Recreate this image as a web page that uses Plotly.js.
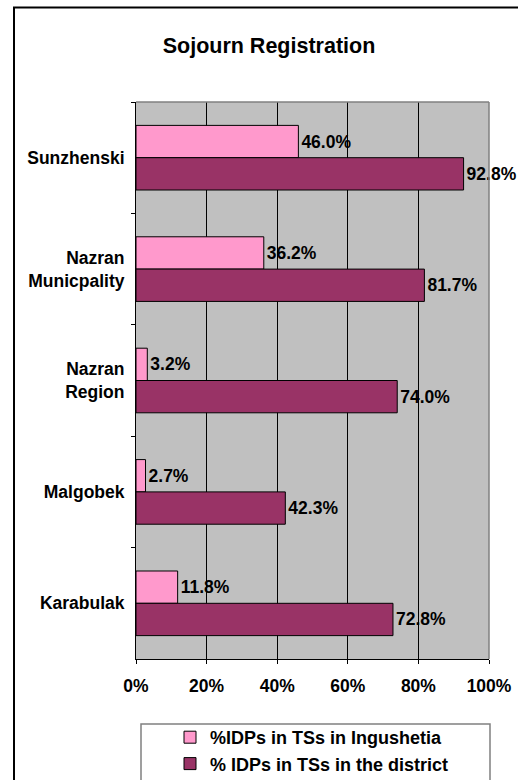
<!DOCTYPE html>
<html>
<head>
<meta charset="utf-8">
<script src="https://cdn.plot.ly/plotly-3.0.1.min.js"></script>
<style>
html,body{margin:0;padding:0;background:#fff;}
#chart{width:518px;height:780px;}
</style>
</head>
<body>
<div id="chart"></div>
<script>
const categories = ['Sunzhenski', 'Nazran<br>Municpality', 'Nazran<br>Region', 'Malgobek', 'Karabulak'];
const ingushetia = [46.0, 36.2, 3.2, 2.7, 11.8];
const district = [92.8, 81.7, 74.0, 42.3, 72.8];
const seriesNames = ['%IDPs in TSs in Ingushetia', '% IDPs in TSs in the district'];
const xTickVals = [0, 20, 40, 60, 80, 100];

const FONT = 'Liberation Sans, Arial, sans-serif';
const labelFont = {family: FONT, size: 17.5, color: '#000', weight: 'bold'};

const traces = [
  {
    type: 'bar', orientation: 'h', name: seriesNames[0],
    y: categories, x: ingushetia,
    marker: {color: '#FF99CC', line: {color: '#000', width: 1}},
    text: ingushetia.map(v => v.toFixed(1) + '%'),
    textposition: 'outside', textfont: labelFont,
    cliponaxis: false, constraintext: 'none', hoverinfo: 'skip'
  },
  {
    type: 'bar', orientation: 'h', name: seriesNames[1],
    y: categories, x: district,
    marker: {color: '#993366', line: {color: '#000', width: 1}},
    text: district.map(v => v.toFixed(1) + '%'),
    textposition: 'outside', textfont: labelFont,
    cliponaxis: false, constraintext: 'none', hoverinfo: 'skip'
  }
];

const layout = {
  width: 518, height: 780,
  margin: {l: 136, r: 29, t: 102, b: 121, autoexpand: false},
  paper_bgcolor: '#fff',
  plot_bgcolor: '#C0C0C0',
  barmode: 'group', bargap: 0.42, bargroupgap: 0,
  showlegend: true,
  title: {
    text: 'Sojourn Registration',
    font: {family: FONT, size: 21.5, color: '#000', weight: 'bold'},
    xref: 'container', x: 269/518, xanchor: 'center',
    yref: 'container', y: 1 - 45/780, yanchor: 'middle'
  },
  xaxis: {
    range: [0, 100], tickvals: xTickVals, ticktext: xTickVals.map(v => v + '%'),
    showgrid: true, gridcolor: '#000', gridwidth: 1,
    zeroline: false, showline: true, linecolor: '#000', linewidth: 1,
    ticks: 'outside', ticklen: 4, tickcolor: '#000',
    ticklabelstandoff: 7,
    tickfont: labelFont, fixedrange: true
  },
  yaxis: {
    type: 'category', autorange: 'reversed',
    showgrid: false, zeroline: false,
    showline: true, linecolor: '#000', linewidth: 1,
    ticks: 'outside', tickson: 'boundaries', ticklen: 4, tickcolor: '#000',
    ticklabelstandoff: 7,
    tickfont: labelFont, fixedrange: true
  },
  legend: {
    orientation: 'v',
    x: (170 - 136) / 353, xanchor: 'left',
    y: (659 - 719) / 557, yanchor: 'top',
    bgcolor: 'rgba(0,0,0,0)', borderwidth: 0,
    font: {family: FONT, size: 18, color: '#000', weight: 'bold'},
    traceorder: 'normal'
  },
  shapes: [
    {type: 'line', xref: 'paper', yref: 'paper', x0: 0, x1: 1, y0: 1, y1: 1, line: {color: '#808080', width: 1.5}, layer: 'above'},
    {type: 'line', xref: 'paper', yref: 'paper', x0: 1, x1: 1, y0: 0, y1: 1, line: {color: '#808080', width: 1.5}, layer: 'above'},
    {type: 'rect', xref: 'paper', yref: 'paper',
     x0: (141 - 136) / 353, x1: (490 - 136) / 353,
     y0: (659 - 724) / 557, y1: (659 - 820) / 557,
     line: {color: '#808080', width: 1.5}, fillcolor: 'rgba(0,0,0,0)', layer: 'above'},
    {type: 'rect', xref: 'paper', yref: 'paper',
     x0: (14 - 136) / 353, x1: (560 - 136) / 353,
     y0: (659 - 840) / 557, y1: 1 + (102 - 7.5) / 557,
     line: {color: '#000', width: 2}, fillcolor: 'rgba(0,0,0,0)', layer: 'above'}
  ]
};

Plotly.newPlot('chart', traces, layout, {displayModeBar: false, staticPlot: true});
</script>
</body>
</html>
